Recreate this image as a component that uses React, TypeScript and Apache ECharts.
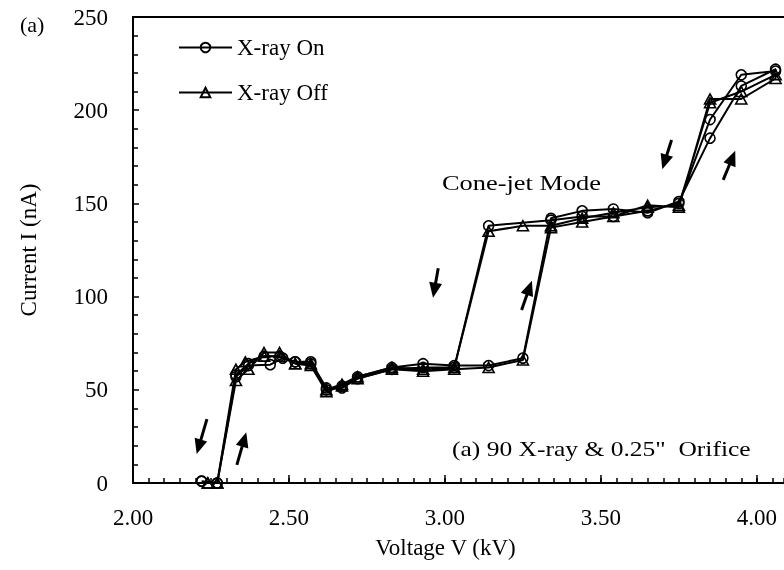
import { useEffect, useRef } from 'react';
import * as echarts from 'echarts';

const FONT = '"Liberation Serif", "Times New Roman", serif';

// X-ray On: sweep up then back down (hysteresis)
const xrayOnVoltage = [
  2.22, 2.27, 2.33, 2.37, 2.44, 2.48, 2.52, 2.57, 2.62, 2.67, 2.72, 2.83, 2.93, 3.03, 3.14, 3.25, 3.34, 3.44, 3.54, 3.65, 3.75, 3.85, 3.95, 4.06,
  4.06, 3.95, 3.85, 3.75, 3.65, 3.54, 3.44, 3.34, 3.14, 3.03, 2.93, 2.83, 2.72, 2.67, 2.62, 2.57, 2.52, 2.47, 2.42, 2.37, 2.33, 2.27, 2.22,
];
const xrayOnCurrent = [
  1, 0, 57, 63, 63.5, 67, 65, 64, 50, 52, 57, 62, 64, 63, 63, 67, 142, 146, 147, 145, 151, 185, 213, 222,
  221, 219, 195, 150, 146, 143, 143, 141, 138, 62, 62, 61, 56, 51, 51, 65, 65, 68, 68, 64, 58, 0, 1,
];

// X-ray Off: sweep up then back down
const xrayOffVoltage = [
  2.24, 2.27, 2.33, 2.37, 2.42, 2.47, 2.52, 2.57, 2.62, 2.67, 2.72, 2.83, 2.93, 3.03, 3.14, 3.25, 3.34, 3.44, 3.54, 3.65, 3.75, 3.85, 3.95, 4.06,
  4.06, 3.95, 3.85, 3.75, 3.65, 3.54, 3.44, 3.34, 3.25, 3.14, 3.03, 2.93, 2.83, 2.72, 2.67, 2.62, 2.57, 2.52, 2.47, 2.42, 2.36, 2.33, 2.27, 2.24,
];
const xrayOffCurrent = [
  0, 0, 55, 61, 70, 70, 64, 63, 49, 52, 56, 61, 60, 61, 62, 66, 137, 140, 143, 149, 148, 206, 206, 217,
  219, 210, 204, 149, 148, 145, 142, 138, 138, 135, 62, 61, 62, 57, 53, 50, 64, 64, 68, 68, 65, 61, 0, 0,
];

// direction arrows (tail -> head), in data units
const arrowTails = [
  [2.237, 34.3], [2.333, 9.7], [2.9785, 115.2], [3.2458, 92.8], [3.7266, 184.0], [3.892, 162.6],
];
const arrowHeads = [
  [2.2109, 19.4], [2.3564, 23.4], [2.966, 103.4], [3.2708, 104.7], [3.7042, 172.2], [3.9215, 174.5],
];

const seriesNames = ['X-ray On', 'X-ray Off'];
const xTitle = 'Voltage V (kV)';
const yTitle = 'Current I (nA)';
const modeNote = 'Cone-jet Mode';
const panelNote = '(a) 90 X-ray & 0.25"  Orifice';
const panelTag = '(a)';

const X_MIN = 2;
const X_MAX = 4.087;

export default function App() {
  const ref = useRef<HTMLDivElement>(null);

  useEffect(() => {
    const chart = echarts.init(ref.current as HTMLDivElement, null, { renderer: 'svg' });
    const zip = (xs: number[], ys: number[]) => xs.map((x, i) => [x, ys[i]]);
    const black = '#000';
    const labelStyle = { color: black, fontFamily: FONT, fontSize: 23 };

    chart.setOption({
      animation: false,
      grid: { left: 133, top: 17, width: 651, height: 466, containLabel: false },
      legend: {
        orient: 'vertical',
        left: 178,
        top: 36,
        padding: 0,
        itemWidth: 53,
        itemHeight: 12,
        itemGap: 22,
        selectedMode: false,
        textStyle: { ...labelStyle, lineHeight: 23 },
        data: seriesNames,
      },
      xAxis: [
        {
          type: 'value',
          min: X_MIN,
          max: X_MAX,
          interval: 0.05,
          position: 'bottom',
          axisLine: { show: true, onZero: false, lineStyle: { color: black, width: 2 } },
          axisTick: { show: true, inside: true, length: 5, lineStyle: { color: black, width: 1.5 } },
          axisLabel: { show: false },
          splitLine: { show: false },
        },
        {
          type: 'value',
          min: X_MIN,
          max: X_MAX,
          interval: 0.5,
          position: 'bottom',
          axisLine: { show: false, onZero: false },
          axisTick: { show: true, inside: true, length: 8, lineStyle: { color: black, width: 1.5 } },
          axisLabel: {
            ...labelStyle,
            margin: 23,
            showMaxLabel: false,
            formatter: (v: number) => v.toFixed(2),
          },
          splitLine: { show: false },
          name: xTitle,
          nameLocation: 'middle',
          nameGap: 53,
          nameTextStyle: { ...labelStyle, padding: [0, 26, 0, 0] },
        },
        {
          type: 'value',
          min: X_MIN,
          max: X_MAX,
          position: 'top',
          axisLine: { show: true, onZero: false, lineStyle: { color: black, width: 2 } },
          axisTick: { show: false },
          axisLabel: { show: false },
          splitLine: { show: false },
        },
      ],
      yAxis: {
        type: 'value',
        min: 0,
        max: 250,
        interval: 50,
        axisLine: { show: true, lineStyle: { color: black, width: 2 } },
        axisTick: { show: true, inside: true, length: 6, lineStyle: { color: black, width: 1.5 } },
        minorTick: { show: true, splitNumber: 5, length: 5, lineStyle: { color: black, width: 1.5 } },
        axisLabel: { ...labelStyle, margin: 25 },
        splitLine: { show: false },
        minorSplitLine: { show: false },
        name: yTitle,
        nameLocation: 'middle',
        nameGap: 93,
        nameTextStyle: labelStyle,
      },
      graphic: [
        {
          type: 'text',
          x: 20,
          y: 24,
          silent: true,
          style: { text: panelTag, fill: black, fontFamily: FONT, fontSize: 22, align: 'left', verticalAlign: 'middle' },
        },
        {
          type: 'text',
          x: 442,
          y: 182.5,
          scaleX: 1.2,
          silent: true,
          style: { text: modeNote, fill: black, fontFamily: FONT, fontSize: 22, align: 'left', verticalAlign: 'middle' },
        },
        {
          type: 'text',
          x: 452,
          y: 449,
          scaleX: 1.16,
          silent: true,
          style: { text: panelNote, fill: black, fontFamily: FONT, fontSize: 22, align: 'left', verticalAlign: 'middle' },
        },
      ],
      series: [
        {
          name: seriesNames[0],
          type: 'line',
          xAxisIndex: 0,
          data: zip(xrayOnVoltage, xrayOnCurrent),
          symbol: 'circle',
          symbolSize: 10,
          showAllSymbol: true,
          lineStyle: { color: black, width: 2 },
          itemStyle: { color: 'rgba(0,0,0,0)', borderColor: black, borderWidth: 1.6 },
          emphasis: { disabled: true },
          markLine: {
            silent: true,
            animation: false,
            label: { show: false },
            lineStyle: { color: black, width: 3, type: 'solid' },
            emphasis: { disabled: true },
            data: arrowTails.map((t, i) => [
              { coord: t, symbol: 'none' },
              { coord: arrowHeads[i], symbol: 'triangle', symbolSize: [13, 15] },
            ]),
          },
        },
        {
          name: seriesNames[1],
          type: 'line',
          xAxisIndex: 0,
          data: zip(xrayOffVoltage, xrayOffCurrent),
          symbol: 'triangle',
          symbolSize: [11, 10],
          showAllSymbol: true,
          lineStyle: { color: black, width: 2 },
          itemStyle: { color: 'rgba(0,0,0,0)', borderColor: black, borderWidth: 1.6 },
          emphasis: { disabled: true },
        },
      ],
    });
    return () => chart.dispose();
  }, []);

  return <div ref={ref} style={{ position: 'fixed', left: 0, top: 0, width: 784, height: 570 }} />;
}
